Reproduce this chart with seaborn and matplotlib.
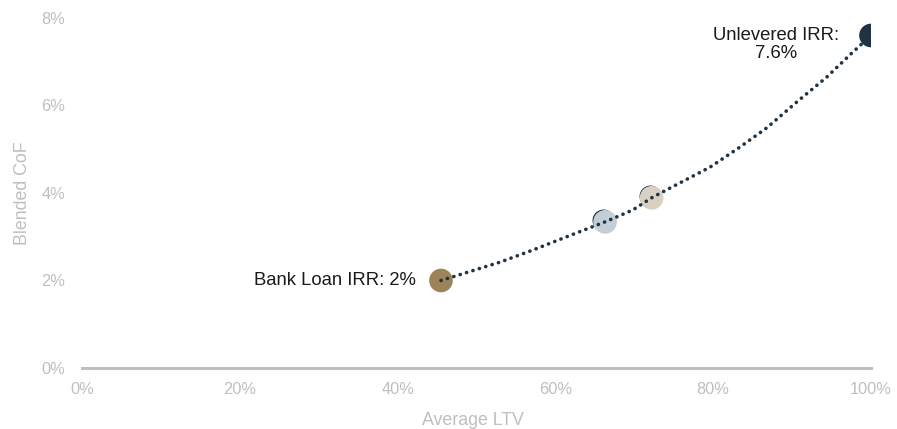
import matplotlib
matplotlib.use("Agg")
from matplotlib import pyplot as plt
import matplotlib.transforms as mtransforms
from matplotlib.ticker import FuncFormatter
import seaborn as sns
import pandas as pd

# blended cost of funding curve
curve_ltv = [45.5, 53.0, 57.2, 61.3, 66.3, 69.8, 72.2, 74.5, 79.6, 83.4, 86.8, 90.6, 94.4, 97.7, 100.0]
curve_cof = [2.00, 2.42, 2.70, 2.99, 3.34, 3.61, 3.89, 4.11, 4.59, 5.05, 5.49, 6.08, 6.65, 7.22, 7.60]

# highlighted points
point_names = ["Bank Loan", "Mid 1", "Mid 2", "Unlevered"]
point_ltv = [45.5, 66.3, 72.2, 100.0]
point_cof = [2.0, 3.34, 3.89, 7.6]
point_colors = ["#9c8458", "#c3ced6", "#d9d0c1", "#1f3344"]

x_ticks = [0, 20, 40, 60, 80, 100]
y_ticks = [0, 2, 4, 6, 8]

sns.set_style("white")
plt.rcParams['font.family'] = ['Liberation Sans', 'DejaVu Sans']

grey = "#bfbfbf"
dark = "#1f3344"

fig = plt.figure(figsize=(8.97, 4.29), dpi=100)
ax = fig.add_axes([0.0914, 0.1422, 0.8796, 0.8159])

curve = pd.DataFrame({"ltv": curve_ltv, "cof": curve_cof})
points = pd.DataFrame({"name": point_names, "ltv": point_ltv, "cof": point_cof})

# dark crescent behind the two middle markers
shadow = mtransforms.offset_copy(ax.transData, fig=fig, x=-1.2, y=1.2, units='points')
mid = points.iloc[1:3]
ax.scatter(mid["ltv"], mid["cof"], s=250, color=dark, transform=shadow, zorder=2, linewidths=0)

sns.scatterplot(data=points, x="ltv", y="cof", hue="name", palette=point_colors,
                s=290, linewidth=0, legend=False, ax=ax, zorder=3)

sns.lineplot(data=curve, x="ltv", y="cof", color=dark, linewidth=2.6,
             linestyle=(0, (0.05, 1.8)), dash_capstyle='round', ax=ax, zorder=4)

ax.text(42.3, 2.0, "Bank Loan IRR: 2%", ha='right', va='center', fontsize=13.3, color="#1a1a1a")
ax.text(88.0, 7.4, "Unlevered IRR:\n7.6%", ha='center', va='center', fontsize=13.3,
        color="#1a1a1a", linespacing=1.05)

ax.set_xlim(0, 100)
ax.set_ylim(0, 8)
ax.set_xticks(x_ticks)
ax.set_yticks(y_ticks)
ax.xaxis.set_major_formatter(FuncFormatter(lambda v, p: f"{v:.0f}%"))
ax.yaxis.set_major_formatter(FuncFormatter(lambda v, p: f"{v:.0f}%"))
ax.tick_params(axis='both', colors=grey, labelcolor=grey, labelsize=11.8, length=0)
ax.tick_params(axis='x', pad=10)
ax.tick_params(axis='y', pad=12)

for side in ["top", "right", "left"]:
    ax.spines[side].set_visible(False)
ax.spines["bottom"].set_color(grey)
ax.spines["bottom"].set_linewidth(2.2)

ax.set_xlabel("Average LTV", color=grey, fontsize=12.8)
ax.set_ylabel("Blended CoF", color=grey, fontsize=12.8)
ax.xaxis.set_label_coords(0.495, -0.125)
ax.yaxis.set_label_coords(-0.064, 0.5)

fig.savefig("out.png", dpi=100)
